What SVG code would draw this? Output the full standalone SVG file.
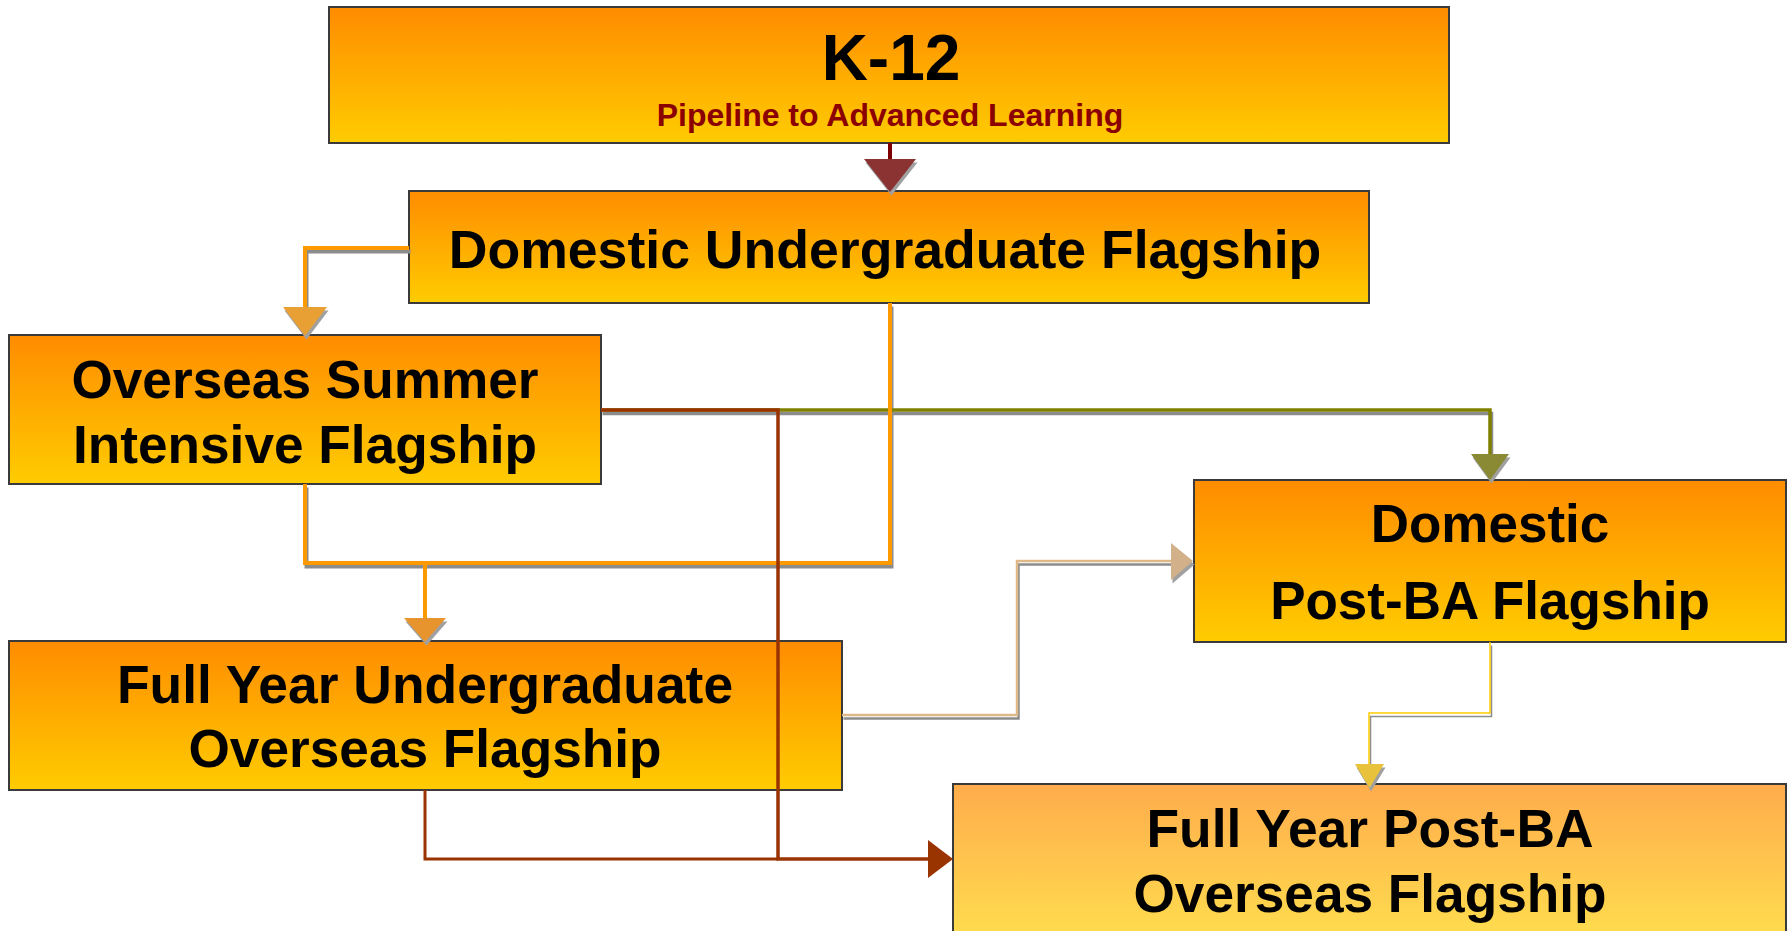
<svg xmlns="http://www.w3.org/2000/svg" width="1791" height="931" viewBox="0 0 1791 931">
<defs>
<linearGradient id="gBox" x1="0" y1="0" x2="0" y2="1">
<stop offset="0" stop-color="#FF8C00"/>
<stop offset="1" stop-color="#FFCC00"/>
</linearGradient>
<linearGradient id="gLight" x1="0" y1="0" x2="0" y2="1">
<stop offset="0" stop-color="#FFAC4C"/>
<stop offset="1" stop-color="#FFE24E"/>
</linearGradient>
<style>
.box{stroke:#3a3a3a;stroke-width:2}
.t{font-family:"Liberation Sans",Arial,sans-serif;font-weight:bold;fill:#000;text-anchor:middle}
.ln{fill:none;stroke-linejoin:miter;stroke-linecap:butt}
.sh{fill:none;stroke:#8c8c8c}
.ash{fill:#a0a0a0}
</style>
</defs>

<g id="node-k12">
<rect class="box" x="329" y="7" width="1120" height="136" fill="url(#gBox)"/>
<text class="t" x="891" y="80" font-size="64">K-12</text>
<text class="t" x="890" y="126" font-size="32" style="fill:#8B0000">Pipeline to Advanced Learning</text>
</g>

<g id="node-domestic-undergrad">
<rect class="box" x="409" y="191" width="960" height="112" fill="url(#gBox)"/>
<text class="t" x="885" y="268" font-size="53.6">Domestic Undergraduate Flagship</text>
</g>

<g id="node-overseas-summer">
<rect class="box" x="9" y="335" width="592" height="149" fill="url(#gBox)"/>
<text class="t" x="305" y="398" font-size="53.2">Overseas Summer</text>
<text class="t" x="305" y="463" font-size="53.2">Intensive Flagship</text>
</g>

<g id="node-domestic-postba">
<rect class="box" x="1194" y="480" width="592" height="162" fill="url(#gBox)"/>
<text class="t" x="1490" y="542" font-size="53">Domestic</text>
<text class="t" x="1490" y="619" font-size="53">Post-BA Flagship</text>
</g>

<g id="node-fullyear-undergrad">
<rect class="box" x="9" y="641" width="833" height="149" fill="url(#gBox)"/>
<text class="t" x="425" y="703" font-size="53.4">Full Year Undergraduate</text>
<text class="t" x="425" y="767" font-size="53.2">Overseas Flagship</text>
</g>

<g id="node-fullyear-postba">
<rect class="box" x="953" y="784" width="833" height="170" fill="url(#gLight)"/>
<text class="t" x="1370" y="847" font-size="53.4">Full Year Post-BA</text>
<text class="t" x="1370" y="912" font-size="53.2">Overseas Flagship</text>
</g>

<g id="connectors">
<g transform="translate(1.5,3.5)">
<path class="sh" stroke-width="4" d="M409,248 H305 V308"/>
<path class="sh" stroke-width="3.5" d="M601,410 H1490 V455"/>
<path class="sh" stroke-width="4" d="M305,484 V563 H890 V303"/>
<path class="sh" stroke-width="2.5" d="M842,715 H1017 V561 H1172"/>
<path class="sh" stroke-width="1.5" d="M1490,642 V713 H1369 V765"/>
<polygon class="ash" points="864,159 916,159 890,192"/>
<polygon class="ash" points="283,307 327,307 305,336"/>
<polygon class="ash" points="1471,454 1509,454 1490,480"/>
<polygon class="ash" points="404,618 446,618 425,642"/>
<polygon class="ash" points="1171,543 1193,561 1171,580"/>
<polygon class="ash" points="1355,764 1384,764 1369.5,788"/>
</g>

<path class="ln" stroke="#7F0000" stroke-width="4" d="M890,143 V162"/>
<polygon fill="#8B3333" points="864,159 916,159 890,192"/>

<path class="ln" stroke="#FF9900" stroke-width="4" d="M409,248 H305 V310"/>
<polygon fill="#E8A035" points="283,307 327,307 305,336"/>

<path class="ln" stroke="#808000" stroke-width="3.5" d="M601,410 H1490 V457"/>
<polygon fill="#8A8A35" points="1471,454 1509,454 1490,480"/>

<path class="ln" stroke="#FF9900" stroke-width="4" d="M305,484 V563 H425 V620"/>
<path class="ln" stroke="#FF9900" stroke-width="4" d="M890,303 V563 H425"/>
<polygon fill="#E8942E" points="404,618 446,618 425,642"/>

<path class="ln" stroke="#FFCC00" stroke-width="1.5" d="M1490,642 V713 H1369 V766"/>
<polygon fill="#E8C23A" points="1355,764 1384,764 1369.5,788"/>

<path class="ln" stroke="#DEB887" stroke-width="2.5" d="M842,715 H1017 V561 H1173"/>
<polygon fill="#D2B08A" points="1171,543 1193,561 1171,580"/>

<path class="ln" stroke="#993300" stroke-width="3.5" d="M601,410 H778 V859 H931"/>
<path class="ln" stroke="#993300" stroke-width="3" d="M425,790 V859 H778"/>
<polygon fill="#993300" points="928,840 953,859 928,878"/>
</g>
</svg>
